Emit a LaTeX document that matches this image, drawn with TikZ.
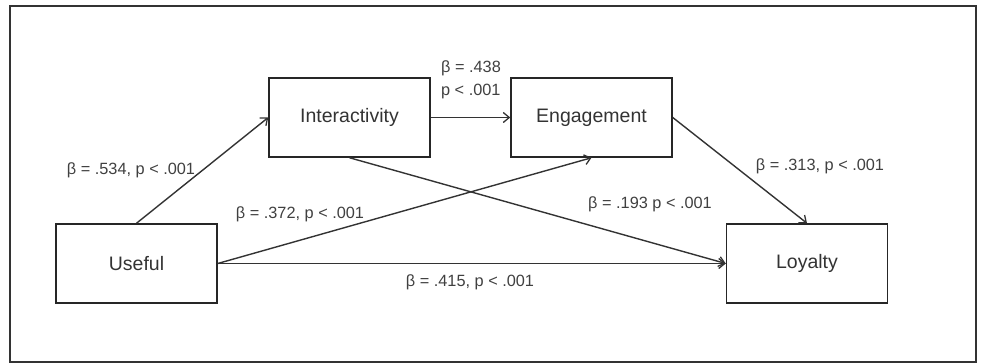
\documentclass[tikz,border=0pt]{standalone}
\usepackage{fontspec}
\setmainfont{Liberation Sans}
\usetikzlibrary{arrows.meta}
\begin{document}
\begin{tikzpicture}[x=1pt,y=-1pt,
  box/.style={draw=black!85,line width=1.5pt,minimum width=161pt,minimum height=79pt,inner sep=0pt,font=\fontsize{19.5}{22}\selectfont,text=black!80},
  conn/.style={draw=black!80,line width=1.4pt,-{Straight Barb[length=6pt,width=10pt,line width=1.3pt]}},
  lbl/.style={font=\fontsize{16.3}{23}\selectfont,text=black!75,inner sep=0pt}]
\useasboundingbox (0,0) rectangle (982,363);
\draw[line width=2pt,black!80] (9.5,6) rectangle (976,361.5);
\node[box] (int) at (349.5,117.5) {Interactivity};
\node[box] (eng) at (591.5,117.5) {Engagement};
\node[box] (use) at (136.5,263.5) {Useful};
\node[box] (loy) at (807,263.5) {Loyalty};
\draw[conn] (use.north) -- (int.west);
\draw[conn] (int.east) -- (eng.west);
\draw[conn] (use.east) -- (eng.south);
\draw[conn] (int.south) -- (loy.west);
\draw[conn] (use.east) -- (loy.west);
\draw[conn] (eng.east) -- (loy.north);
\node[lbl] (l1) at (131,170) {β = .534, p < .001};
\node[lbl] (l2) at (300,214) {β = .372, p < .001};
\node[lbl,align=left] (l3) at (471,80) {β = .438\\p < .001};
\node[lbl] (l4) at (820,166) {β = .313, p < .001};
\node[lbl] (l5) at (650,204) {β = .193 p < .001};
\node[lbl] (l6) at (470,282) {β = .415, p < .001};
\end{tikzpicture}
\end{document}
